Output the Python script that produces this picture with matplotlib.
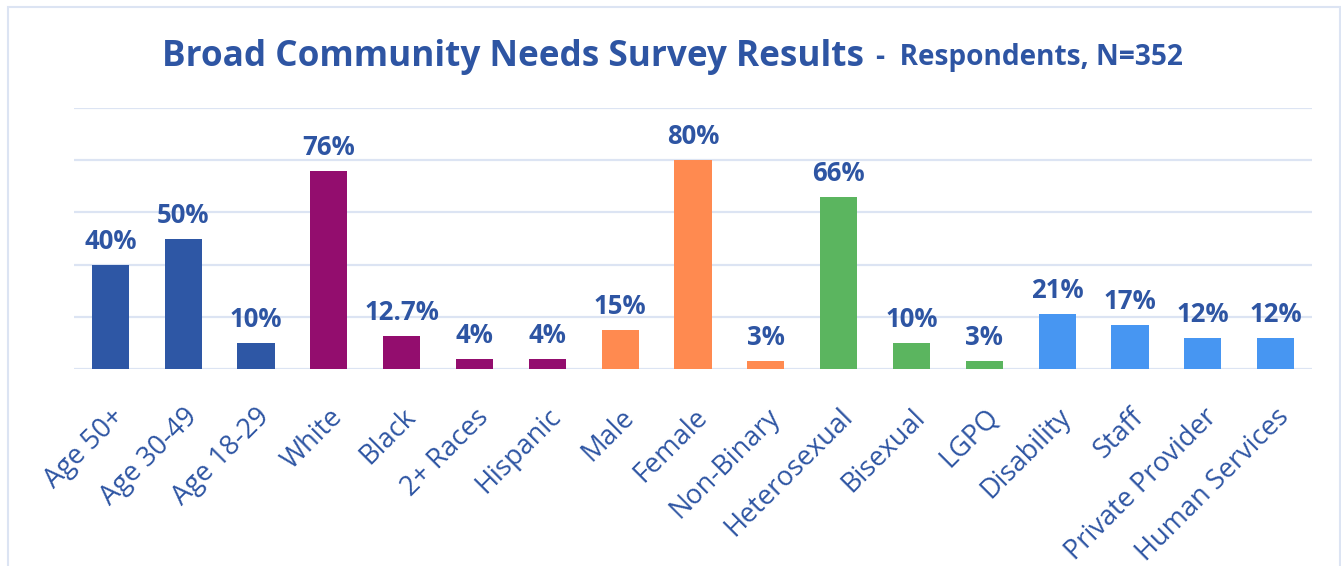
"""
Broad Community Needs Survey - respondent profile bar chart.
"""
import matplotlib.pyplot as plt
from matplotlib.patches import Rectangle

# Chart data
categories = ['Age 50+', 'Age 30-49', 'Age 18-29', 'White', 'Black', '2+ Races',
              'Hispanic', 'Male', 'Female', 'Non-Binary', 'Heterosexual', 'Bisexual',
              'LGPQ', 'Disability', 'Staff', 'Private Provider', 'Human Services']
values = [40, 50, 10, 76, 12.7, 4, 4, 15, 80, 3, 66, 10, 3, 21, 17, 12, 12]
value_labels = ['40%', '50%', '10%', '76%', '12.7%', '4%', '4%', '15%', '80%', '3%',
                '66%', '10%', '3%', '21%', '17%', '12%', '12%']
groups = ['age', 'age', 'age', 'race', 'race', 'race', 'race', 'gender', 'gender',
          'gender', 'orient', 'orient', 'orient', 'other', 'other', 'other', 'other']

group_colors = {'age': '#2E57A5', 'race': '#930D6E', 'gender': '#FF8A50',
                'orient': '#5BB55F', 'other': '#4796F2'}
text_color = '#2E55A3'
grid_color = '#DCE4F3'

plt.rcParams['font.family'] = ['Open Sans', 'DejaVu Sans']

W, H = 1341, 566
fig = plt.figure(figsize=(W / 100, H / 100), dpi=100)
fig.patch.set_facecolor('white')

# Thin outer frame
fig.patches.append(Rectangle((8 / W, -0.05), (1340 - 8) / W, (H - 7) / H + 0.05,
                             transform=fig.transFigure, fill=False,
                             edgecolor=grid_color, linewidth=1.5))

ax = fig.add_axes([74 / W, (H - 369) / H, (1312 - 74) / W, (369 - 108) / H])
x = range(len(categories))
colors = [group_colors[g] for g in groups]
ax.bar(x, values, width=0.51, color=colors, zorder=3)

ax.set_xlim(-0.5, len(categories) - 0.5)
ax.set_ylim(0, 100)
ax.set_yticks([0, 20, 40, 60, 80, 100])
ax.yaxis.grid(True, color=grid_color, linewidth=1.6, zorder=0)
ax.tick_params(axis='y', left=False, labelleft=False)
for s in ax.spines.values():
    s.set_visible(False)

ax.set_xticks(list(x))
ax.set_xticklabels(categories, rotation=45, ha='right', va='top',
                   rotation_mode='anchor', fontsize=19.5, color=text_color)
ax.tick_params(axis='x', bottom=False, pad=21)

for xi, v, lab in zip(x, values, value_labels):
    ax.annotate(lab, (xi, v), xytext=(0, 7), textcoords='offset points',
                ha='center', va='bottom', fontsize=18.5, fontweight='bold',
                color=text_color)

# Title in two parts
t1 = fig.text(162 / W, (H - 66) / H, 'Broad Community Needs Survey Results',
              fontsize=25.3, fontweight='bold', color=text_color, ha='left', va='baseline')
fig.canvas.draw()
bb = t1.get_window_extent()
fig.text((bb.x1 + 12) / W, (H - 65) / H, '-  Respondents, N=352',
         fontsize=20.2, fontweight='bold', color=text_color, ha='left', va='baseline')

fig.savefig('out.png', dpi=100)
